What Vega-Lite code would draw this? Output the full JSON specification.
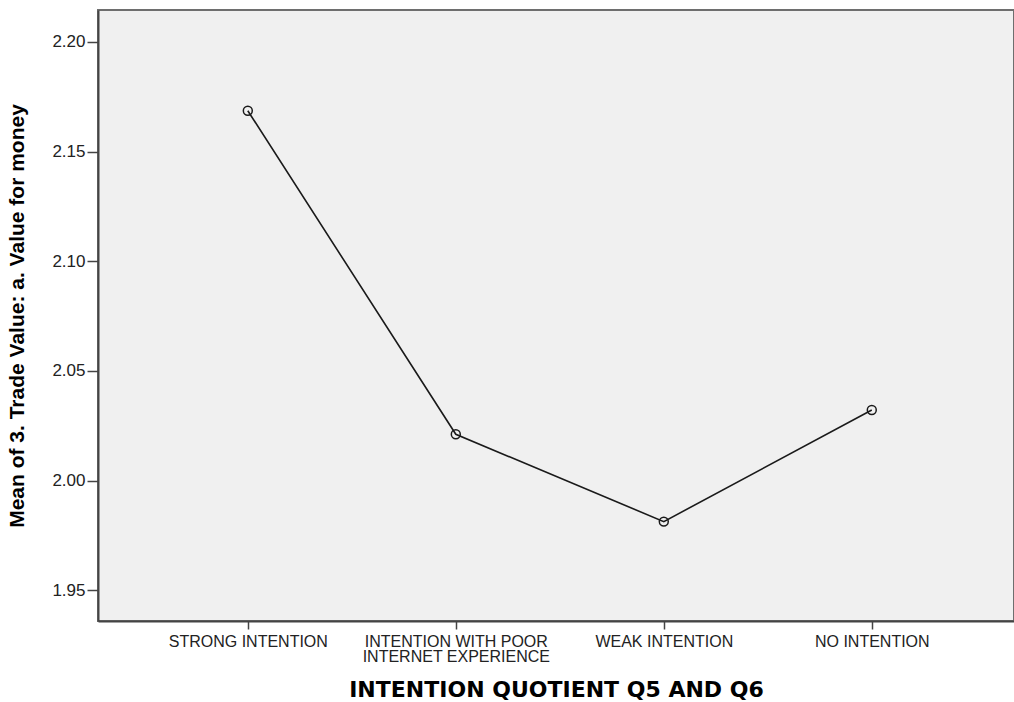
{
  "$schema": "https://vega.github.io/schema/vega-lite/v6.json",
  "autosize": "none",
  "padding": {"left": 98, "top": 10, "right": 0, "bottom": 81},
  "width": 916,
  "height": 611,
  "background": "#ffffff",
  "config": {
    "view": {"fill": "#f0f0f0", "stroke": "#6e6e6e", "strokeWidth": 2},
    "axis": {"grid": false, "domainColor": "#444444", "domainWidth": 2, "tickColor": "#444444", "tickWidth": 1.5, "labelColor": "#222222", "titleColor": "#000000", "labelFont": "Liberation Sans", "titleFont": "Liberation Sans"}
  },
  "data": {
    "values": [
      {"group": "STRONG INTENTION", "order": 1, "mean": 2.1686},
      {"group": "INTENTION WITH POOR INTERNET EXPERIENCE", "order": 2, "mean": 2.0211},
      {"group": "WEAK INTENTION", "order": 3, "mean": 1.9813},
      {"group": "NO INTENTION", "order": 4, "mean": 2.0322}
    ]
  },
  "encoding": {
    "x": {
      "field": "group",
      "type": "nominal",
      "sort": ["STRONG INTENTION", "INTENTION WITH POOR INTERNET EXPERIENCE", "WEAK INTENTION", "NO INTENTION"],
      "scale": {"type": "point", "padding": 0.702, "align": 0.513},
      "axis": {
        "title": "INTENTION QUOTIENT Q5 AND Q6",
        "labelAngle": 0,
        "labelFontSize": 16,
        "labelPadding": 4,
        "labelLineHeight": 15,
        "labelLimit": 400,
        "labelExpr": "datum.value == 'INTENTION WITH POOR INTERNET EXPERIENCE' ? ['INTENTION WITH POOR', 'INTERNET EXPERIENCE'] : datum.value",
        "tickSize": 8,
        "titleFont": "DejaVu Sans",
        "titleFontSize": 22,
        "titleFontWeight": "bold",
        "titlePadding": 15
      }
    },
    "y": {
      "field": "mean",
      "type": "quantitative",
      "scale": {"domain": [1.936, 2.2145], "nice": false, "zero": false},
      "axis": {
        "title": "Mean of 3. Trade Value: a. Value for money",
        "values": [1.95, 2.0, 2.05, 2.1, 2.15, 2.2],
        "format": ".2f",
        "labelFontSize": 17,
        "labelPadding": 2,
        "tickSize": 11,
        "titleFontSize": 21,
        "titleFontWeight": "bold",
        "titlePadding": 24
      }
    }
  },
  "layer": [
    {"mark": {"type": "line", "color": "#1a1a1a", "strokeWidth": 1.6}},
    {"mark": {"type": "point", "filled": false, "color": "#1a1a1a", "strokeWidth": 1.5, "size": 80, "opacity": 1}}
  ]
}
